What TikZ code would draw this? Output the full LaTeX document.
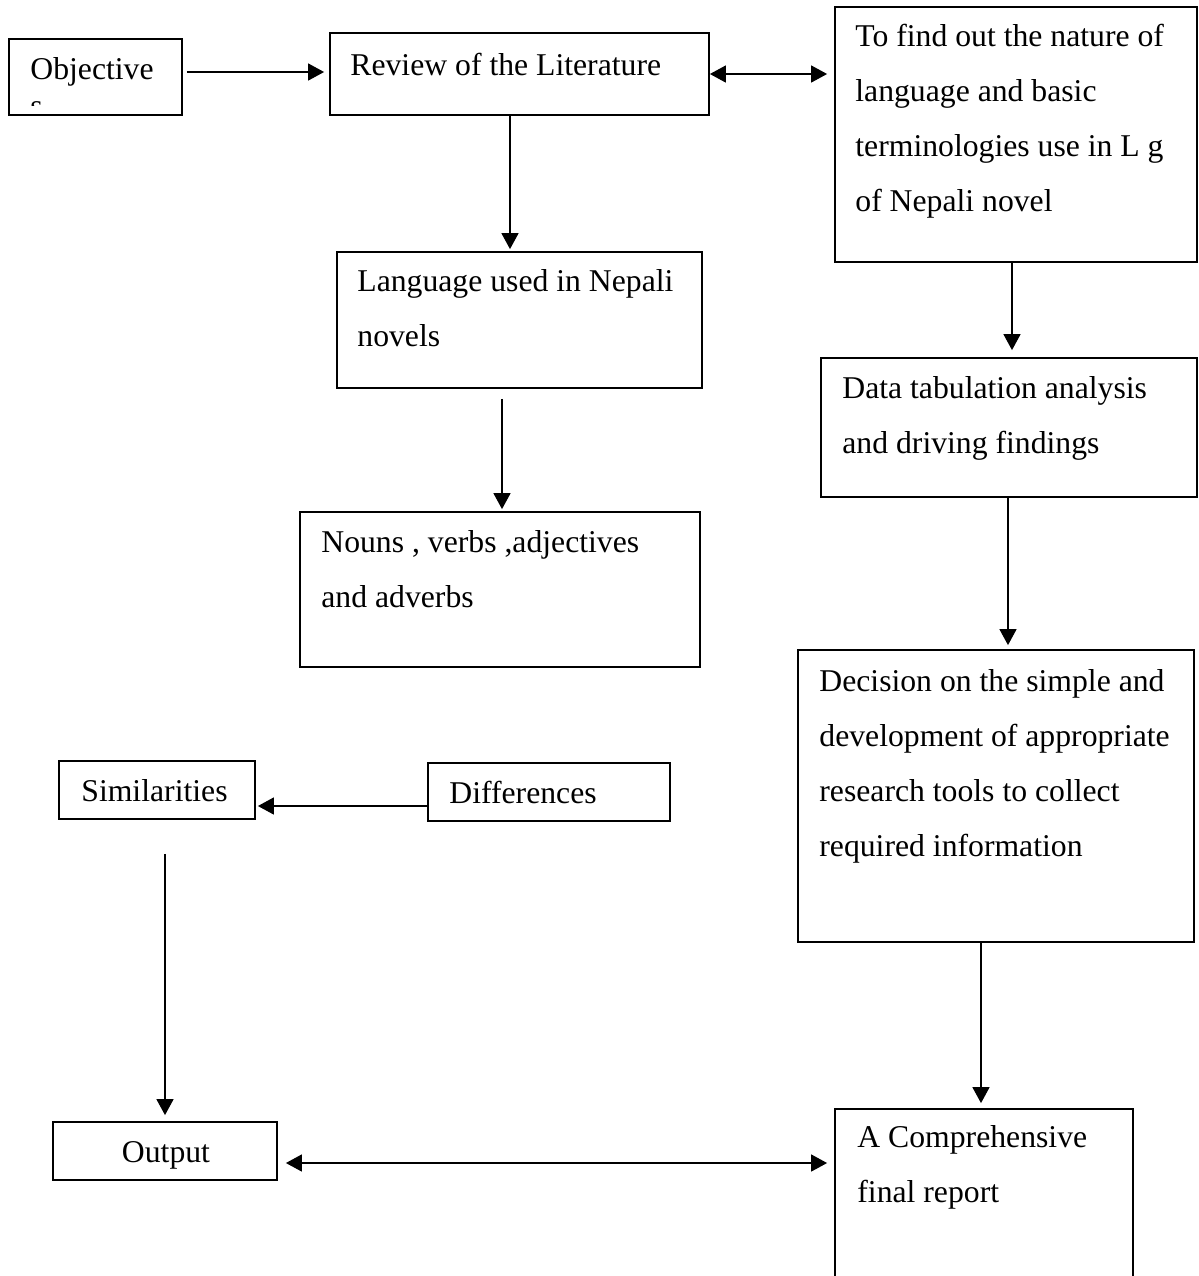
\documentclass[tikz,border=0pt]{standalone}
\usepackage{fontspec}
\setmainfont{Liberation Serif}
\usetikzlibrary{arrows.meta,fit}
\newcommand{\mlines}[1]{\begin{tabular}[t]{@{}l@{}}#1\end{tabular}}
\begin{document}
\begin{tikzpicture}[x=0.5pt,y=-0.5pt,
  boxnode/.style={draw,line width=0.9pt,inner sep=0pt,rectangle},
  txt/.style={inner sep=0pt,anchor=base west,font=\fontsize{15.85}{27.65}\selectfont},
  arr/.style={line width=0.75pt,-{Triangle[length=8pt,width=8.5pt]}},
  darr/.style={line width=0.75pt,{Triangle[length=8pt,width=8.5pt]}-{Triangle[length=8pt,width=8.5pt]}}]
\useasboundingbox (0,0) rectangle (1199,1276);
\clip (0,0) rectangle (1199,1276);
% boxes
\node[boxnode,fit={(9,39) (182,115)}] (obj) {};
\node[boxnode,fit={(330,33) (709,115)}] (rev) {};
\node[boxnode,fit={(835,7) (1197,262)}] (find) {};
\node[boxnode,fit={(337,252) (702,388)}] (lang) {};
\node[boxnode,fit={(300,512) (700,667)}] (nouns) {};
\node[boxnode,fit={(821,358) (1197,497)}] (data) {};
\node[boxnode,fit={(798,650) (1194,942)}] (dec) {};
\node[boxnode,fit={(59,761) (255,819)}] (sim) {};
\node[boxnode,fit={(428,763) (670,821)}] (diff) {};
\node[boxnode,fit={(53,1122) (277,1180)}] (out) {};
\node[boxnode,fit={(835,1109) (1133,1320)}] (final) {};
% texts
\node[txt] (tobj) at (30,79) {Objective};
\begin{scope}
\clip (20,95) rectangle (60,105.5);
\node[txt] (tobjs) at (30,116) {s};
\end{scope}
\node[txt] (trev) at (350,75) {Review of the Literature};
\node[txt] (tfind) at (855,46) {\mlines{To find out the nature of\\language and basic\\terminologies use in L g\\of Nepali novel}};
\node[txt] (tlang) at (357,291) {\mlines{Language used in Nepali\\novels}};
\node[txt] (tnouns) at (321,552) {\mlines{Nouns , verbs ,adjectives\\and adverbs}};
\node[txt] (tdata) at (842,398) {\mlines{Data tabulation analysis\\and driving findings}};
\node[txt] (tdec) at (819,691) {\mlines{Decision on the simple and\\development of appropriate\\research tools to collect\\required information}};
\node[txt] (tsim) at (81,801) {Similarities};
\node[txt] (tdiff) at (449,803) {Differences};
\node[txt,anchor=base] (tout) at (166,1162) {Output};
\node[txt] (tfinal) at (857,1147) {\mlines{A Comprehensive\\final report}};
% connectors
\draw[arr,shorten <=2pt,shorten >=2.5pt] (obj.east |- 0,72) -- (rev.west |- 0,72);
\draw[darr,shorten >=3.5pt] (rev.east |- 0,74) -- (find.west |- 0,74);
\draw[arr,shorten >=1pt] (rev.south -| 510,0) -- (lang.north -| 510,0);
\draw[arr,shorten <=5pt,shorten >=1pt] (lang.south -| 502,0) -- (nouns.north -| 502,0);
\draw[arr,shorten >=3.5pt] (find.south -| 1012,0) -- (data.north -| 1012,0);
\draw[arr,shorten >=2pt] (data.south -| 1008,0) -- (dec.north -| 1008,0);
\draw[arr,shorten >=2.5pt] (dec.south -| 981,0) -- (final.north -| 981,0);
\draw[darr,shorten <=4pt,shorten >=3.5pt] (out.east |- 0,1163) -- (final.west |- 0,1163);
\draw[arr,shorten >=1pt] (diff.west |- 0,806) -- (sim.east |- 0,806);
\draw[arr,shorten <=17pt,shorten >=3pt] (sim.south -| 165,0) -- (out.north -| 165,0);
\end{tikzpicture}
\end{document}
